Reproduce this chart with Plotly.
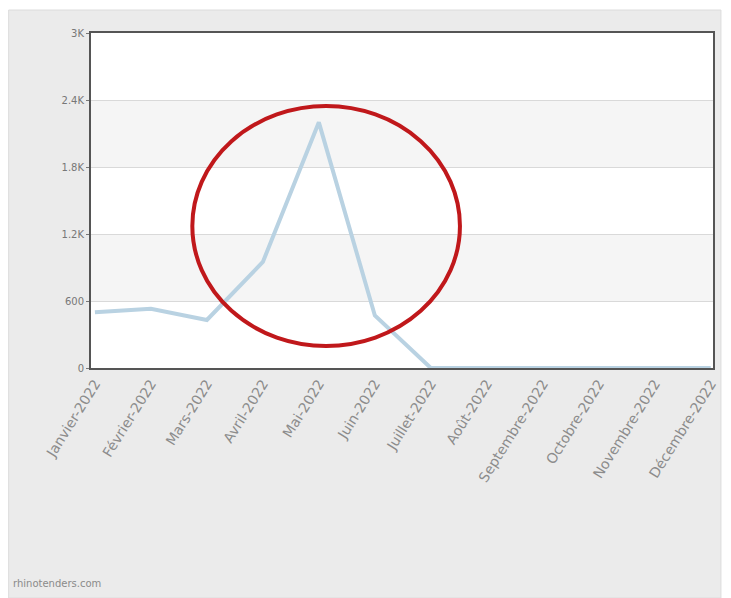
import plotly.graph_objects as go

# Monthly values for 2022
months = ["Janvier-2022", "Février-2022", "Mars-2022", "Avril-2022", "Mai-2022",
          "Juin-2022", "Juillet-2022", "Août-2022", "Septembre-2022",
          "Octobre-2022", "Novembre-2022", "Décembre-2022"]
values = [500, 530, 430, 950, 2200, 470, 0, 0, 0, 0, 0, 0]

y_ticks = [0, 600, 1200, 1800, 2400, 3000]
y_tick_labels = ["0", "600", "1.2K", "1.8K", "2.4K", "3K"]

idx = list(range(len(months)))

fig = go.Figure()
fig.add_trace(go.Scatter(
    x=idx, y=values, mode="lines",
    line=dict(color="#b9d2e2", width=4),
    hoverinfo="skip", showlegend=False,
))

shapes = [
    # grey page panel behind the chart
    dict(type="rect", xref="paper", yref="paper",
         x0=(8 - 91) / 627, x1=(726 - 91) / 627,
         y0=(368 - 598) / 335, y1=(368 - 10) / 335,
         fillcolor="#ebebeb", line=dict(color="#dcdcdc", width=1), layer="below"),
    # white plotting area
    dict(type="rect", xref="paper", yref="paper", x0=0, x1=1, y0=0, y1=1,
         fillcolor="white", line=dict(width=0), layer="below"),
    # alternating bands
    dict(type="rect", xref="paper", yref="y", x0=0, x1=1, y0=600, y1=1200,
         fillcolor="#f5f5f5", line=dict(width=0), layer="below"),
    dict(type="rect", xref="paper", yref="y", x0=0, x1=1, y0=1800, y1=2400,
         fillcolor="#f5f5f5", line=dict(width=0), layer="below"),
    # red highlight ellipse
    dict(type="circle", xref="x", yref="y", x0=1.74, x1=6.52, y0=197, y1=2346,
         line=dict(color="#c0181b", width=4)),
]

fig.update_layout(
    width=731, height=598,
    margin=dict(l=91, r=13, t=33, b=230),
    paper_bgcolor="white",
    plot_bgcolor="white",
    font=dict(family="DejaVu Sans", size=10, color="#666666"),
    shapes=shapes,
    xaxis=dict(
        range=[-0.07, 11.04],
        tickmode="array", tickvals=idx, ticktext=months,
        tickangle=-58, tickfont=dict(size=14, color="#8c8c8c"),
        showgrid=False, zeroline=False,
        showline=True, linecolor="#555555", linewidth=2, mirror=True,
        ticks="", fixedrange=True,
    ),
    yaxis=dict(
        range=[0, 3000],
        tickmode="array", tickvals=y_ticks, ticktext=y_tick_labels,
        tickfont=dict(size=10, color="#777777"),
        showgrid=True, gridcolor="#d9d9d9", gridwidth=1,
        zeroline=False,
        showline=True, linecolor="#555555", linewidth=2, mirror=True,
        ticks="outside", ticklen=3, tickcolor="#777777",
    ),
    annotations=[
        dict(text="rhinotenders.com", xref="paper", yref="paper",
             x=(10 - 91) / 627, y=(368 - 583) / 335,
             xanchor="left", yanchor="middle", showarrow=False,
             font=dict(family="DejaVu Sans", size=10, color="#8a8a8a")),
    ],
)

fig.write_html("out.html")
